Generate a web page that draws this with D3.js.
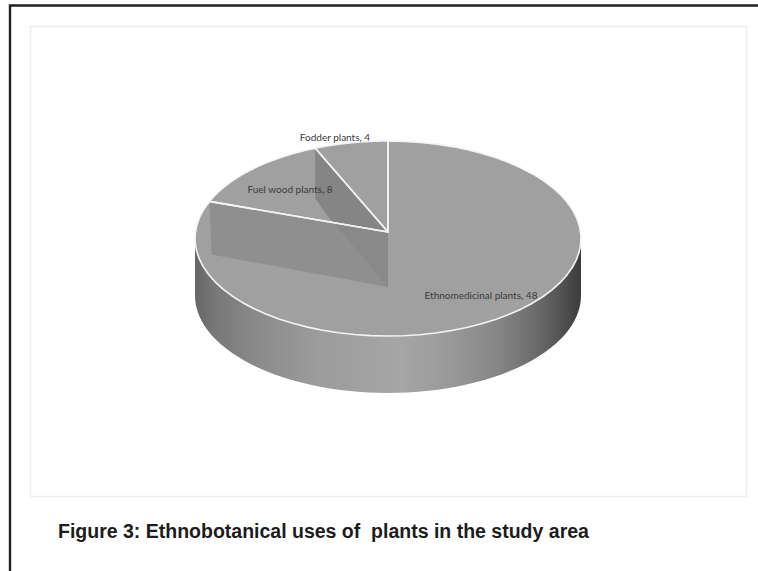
<!DOCTYPE html>
<html>
<head>
<meta charset="utf-8">
<script src="https://cdn.jsdelivr.net/npm/d3@7"></script>
<style>
  html, body { margin: 0; padding: 0; background: #fff; }
  svg { display: block; }
</style>
</head>
<body>
<svg id="chart" width="758" height="571"></svg>
<script>
// Plant use categories and the number of species in each
const categories = ["Ethnomedicinal plants", "Fuel wood plants", "Fodder plants"];
const speciesCounts = [48, 8, 4];
const chartTitle = "Figure 3: Ethnobotanical uses of  plants in the study area";

const svg = d3.select("#chart");

// Tilted disc geometry
const cx = 388, cy = 238.5, rx = 193, ry = 97.5, depth = 57;
const apex = [388, 232];

// Perspective squeezes the slice angles a little toward the far edge
const skew = a => a - 0.08 * Math.sin(a);
const project = a => [cx + rx * Math.sin(a), cy - ry * Math.cos(a)];
const line = d3.line();
const sweep = (a0, a1) => d3.range(0, 61).map(i => a0 + (a1 - a0) * i / 60);
const arcPoints = (a0, a1, dy = 0) => sweep(a0, a1)
  .map(a => { const p = project(a); return [p[0], p[1] + dy]; });
const sliceOutline = d => line([apex].concat(arcPoints(skew(d.startAngle), skew(d.endAngle)))) + "Z";

const pie = d3.pie().sort(null).value(d => d)(speciesCounts);

// Page frame and chart panel
svg.append("path").attr("d", "M10,571V5.5H758").attr("fill", "none")
  .attr("stroke", "#222").attr("stroke-width", 2.4);
svg.append("rect").attr("x", 30.5).attr("y", 26.5).attr("width", 716).attr("height", 470)
  .attr("fill", "#fff").attr("stroke", "#eeeeee").attr("stroke-width", 1.5);

// Shading around the outer wall of the disc
const defs = svg.append("defs");
const sideStops = [
  [195, "#666666"], [215, "#787878"], [260, "#8b8b8b"], [320, "#9c9c9c"], [400, "#a6a6a6"],
  [450, "#999999"], [500, "#858585"], [540, "#686868"], [565, "#4e4e4e"], [581, "#3c3c3c"]
];
const sideX = d3.scaleLinear().domain([cx - rx, cx + rx]).range([0, 1]);
const grad = defs.append("linearGradient").attr("id", "side")
  .attr("gradientUnits", "objectBoundingBox").attr("x1", 0).attr("x2", 1).attr("y1", 0).attr("y2", 0);
grad.selectAll("stop").data(sideStops).join("stop")
  .attr("offset", d => sideX(d[0])).attr("stop-color", d => d[1]);

// Outer wall: front half of the rim swept down by the disc depth
const rimTop = arcPoints(Math.PI / 2, 3 * Math.PI / 2);
const rimBottom = arcPoints(3 * Math.PI / 2, Math.PI / 2, depth);
svg.append("path").attr("d", line(rimTop.concat(rimBottom)) + "Z").attr("fill", "url(#side)");

// Top faces of the slices
svg.append("g").selectAll("path").data(pie).join("path")
  .attr("d", sliceOutline)
  .attr("fill", "#a0a0a0");

// Inner walls of the fuel wood wedge, seen through its top
const fuel = pie[1];
const wallDrop = 55;
const clipFuel = defs.append("clipPath").attr("id", "wedge");
clipFuel.append("path").attr("d", sliceOutline(fuel));

const a = project(skew(fuel.startAngle)), b = project(skew(fuel.endAngle));
const farWall = [b, [b[0], b[1] + wallDrop - 5], [b[0] + 11, b[1] + wallDrop + 11], [apex[0], apex[1] + wallDrop], apex];
svg.append("path")
  .attr("d", line([a, [a[0] + 2, a[1] + wallDrop - 2], [apex[0], apex[1] + wallDrop], apex]) + "Z")
  .attr("fill", "#8f8f8f");
svg.append("path")
  .attr("d", line(farWall) + "Z")
  .attr("fill", "#838383").attr("fill-opacity", 0.45);
svg.append("path")
  .attr("d", line(farWall) + "Z")
  .attr("fill", "#858585").attr("clip-path", "url(#wedge)");

// Slice outlines
svg.append("g").selectAll("path").data(pie).join("path")
  .attr("d", sliceOutline)
  .attr("fill", "none").attr("stroke", "#f4f4f4").attr("stroke-width", 1.6)
  .attr("stroke-linejoin", "round");

// Slice labels
const labelAnchors = [[481, 299], [290, 192.5], [335, 141]];
svg.append("g").selectAll("text").data(pie).join("text")
  .attr("x", (d, i) => labelAnchors[i][0])
  .attr("y", (d, i) => labelAnchors[i][1])
  .attr("text-anchor", "middle")
  .attr("font-family", "Lato, 'Open Sans', sans-serif")
  .attr("font-size", 10)
  .attr("fill", "#3a3a3a")
  .text((d, i) => `${categories[i]}, ${d.value}`);

// Caption
svg.append("text").attr("x", 58).attr("y", 537.5)
  .attr("font-family", "'Liberation Sans', Arial, sans-serif")
  .attr("font-weight", 700).attr("font-size", 19.5)
  .attr("fill", "#1c1c1c")
  .style("white-space", "pre")
  .text(chartTitle);
</script>
</body>
</html>
